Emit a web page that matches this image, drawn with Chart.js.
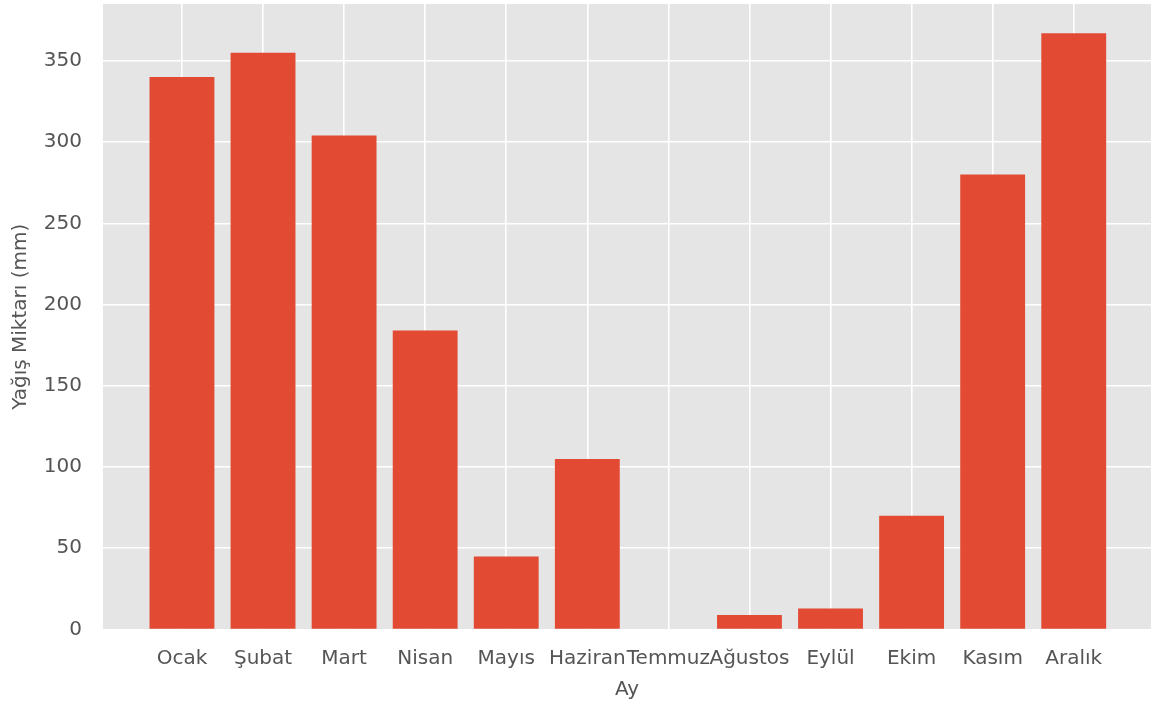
<!DOCTYPE html>
<html>
<head>
<meta charset="utf-8">
<script src="https://cdn.jsdelivr.net/npm/chart.js@4"></script>
<style>
html,body{margin:0;padding:0;background:#fff;}
canvas{display:block;}
</style>
</head>
<body>
<canvas id="c" width="1151" height="704"></canvas>
<script>
const months = ["Ocak","Şubat","Mart","Nisan","Mayıs","Haziran","Temmuz","Ağustos","Eylül","Ekim","Kasım","Aralık"];
const rainfall = [340, 355, 304, 184, 45, 105, 0, 9, 13, 70, 280, 367];
const yTicks = [0, 50, 100, 150, 200, 250, 300, 350];

const FONT = "'DejaVu Sans', sans-serif";
const TXT = "#555555";
const FS = 20;

const bgPlugin = {
  id: 'plotBg',
  beforeDraw(chart) {
    const {ctx, chartArea: a} = chart;
    ctx.save();
    ctx.fillStyle = '#E5E5E5';
    ctx.fillRect(a.left, a.top, a.right - a.left, a.bottom - a.top);
    ctx.restore();
  }
};

new Chart(document.getElementById('c'), {
  type: 'bar',
  data: {
    datasets: [{
      data: rainfall.map((v, i) => ({x: i, y: v})),
      backgroundColor: '#E24A33',
      borderWidth: 0,
      barPercentage: 0.8,
      categoryPercentage: 1.0
    }]
  },
  options: {
    responsive: false,
    animation: false,
    layout: {padding: {top: 4, left: 0, right: 0, bottom: 0}},
    plugins: {legend: {display: false}, tooltip: {enabled: false}},
    scales: {
      x: {
        type: 'linear',
        min: -0.974,
        max: 11.953,
        offset: false,
        afterBuildTicks(s) { s.ticks = months.map((m, i) => ({value: i})); },
        afterFit(s) { s.height = 74.5; s.paddingLeft = 0; s.paddingRight = 0; },
        grid: {color: '#FFFFFF', lineWidth: 1.6, drawTicks: false, offset: false},
        border: {display: false},
        ticks: {
          autoSkip: false,
          maxRotation: 0,
          padding: 17,
          color: TXT,
          font: {family: FONT, size: FS},
          callback: (v) => months[Math.round(v)]
        },
        title: {
          display: true,
          text: 'Ay',
          color: TXT,
          font: {family: FONT, size: FS},
          padding: {top: 0, bottom: 2}
        }
      },
      y: {
        min: 0,
        max: 385,
        afterBuildTicks(s) { s.ticks = yTicks.map(v => ({value: v})); },
        afterFit(s) { s.width = 103; s.paddingTop = 0; s.paddingBottom = 0; },
        grid: {color: '#FFFFFF', lineWidth: 1.6, drawTicks: false},
        border: {display: false},
        ticks: {
          padding: 21,
          color: TXT,
          font: {family: FONT, size: FS}
        },
        title: {
          display: true,
          text: 'Yağış Miktarı (mm)',
          color: TXT,
          font: {family: FONT, size: FS},
          padding: {top: 9, bottom: 0}
        }
      }
    }
  },
  plugins: [bgPlugin]
});
</script>
</body>
</html>
